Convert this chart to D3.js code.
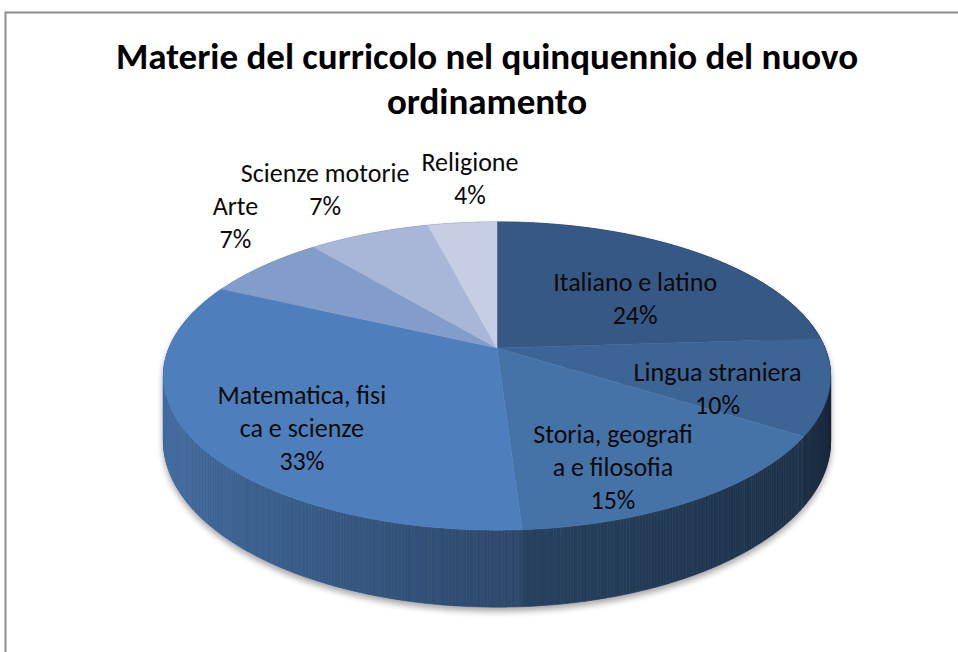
<!DOCTYPE html>
<html>
  <head>
    <title>Materie del curricolo</title>
    <style>
      body { margin: 0; background: #fff; }
      text { font-family: Carlito, Calibri, Lato, sans-serif; }
    </style>
  </head>
  <body>
    <script src="https://cdnjs.cloudflare.com/ajax/libs/d3/7.8.5/d3.min.js"></script>
    <script>
      // data
      let subjects = ['Italiano e latino', 'Lingua straniera', 'Storia, geografia e filosofia',
                      'Matematica, fisica e scienze', 'Arte', 'Scienze motorie', 'Religione'];
      let shares = [24, 10, 15, 33, 7, 7, 4];
      // the way Excel wrapped the labels
      let labelLines = [['Italiano e latino'], ['Lingua straniera'], ['Storia, geografi', 'a e filosofia'],
                        ['Matematica, fisi', 'ca e scienze'], ['Arte'], ['Scienze motorie'], ['Religione']];
      let titleLines = ['Materie del curricolo nel quinquennio del nuovo', 'ordinamento'];
      let colors = ['#365884', '#3C6596', '#4573A8', '#4E7FBC', '#829DCA', '#A8B6D7', '#C5CEE2'];

      let width = 958, height = 652;

      let svg = d3.select('body')
                  .append('svg')
                  .attr('width', width)
                  .attr('height', height);

      // chart area border (only top and left are in the frame)
      svg.append('path')
         .attr('d', 'M5.5,' + height + 'V12.5H' + width)
         .attr('fill', 'none')
         .attr('stroke', '#8c8c8c')
         .attr('stroke-width', 2);

      // title
      let title = svg.append('g');
      titleLines.forEach((t, i) => {
        title.append('text')
             .attr('x', 487)
             .attr('y', 69 + i * 45)
             .attr('text-anchor', 'middle')
             .attr('font-size', 37)
             .attr('font-weight', 'bold')
             .attr('fill', '#000')
             .text(t);
      });

      // perspective pie geometry
      let cx = 497, cy = 348, rx = 328, ry = 149, k = 0.182, depth = 63;

      function project(angle, r, drop) {
        let u = r * Math.sin(angle),
            v = -r * Math.cos(angle),
            d = 1 - k * v;
        return [cx + rx * u / d, cy + (ry * v + drop) / d];
      }

      let pie = d3.pie().sort(null).value((d) => d);
      let arcs = pie(shares);

      // shadow under the pie
      let defs = svg.append('defs');
      let filter = defs.append('filter').attr('id', 'shadow')
                       .attr('x', '-10%').attr('y', '-10%').attr('width', '120%').attr('height', '130%');
      filter.append('feGaussianBlur').attr('in', 'SourceAlpha').attr('stdDeviation', 3).attr('result', 'blur');
      filter.append('feOffset').attr('in', 'blur').attr('dy', 4).attr('result', 'off');
      filter.append('feComponentTransfer').attr('in', 'off').attr('result', 'soft')
            .append('feFuncA').attr('type', 'linear').attr('slope', 0.35);
      let merge = filter.append('feMerge');
      merge.append('feMergeNode').attr('in', 'soft');
      merge.append('feMergeNode').attr('in', 'SourceGraphic');

      // side of the pie, lit from the left
      function shade(angle) {
        let c = Math.cos(angle - 1.5 * Math.PI);
        return c >= 0 ? 0.58 + 0.28 * c : 0.58 + 0.18 * c;
      }

      let walls = svg.append('g').attr('filter', 'url(#shadow)');
      let step = Math.PI / 360;
      arcs.forEach((a, i) => {
        let base = d3.rgb(colors[i]);
        let t0 = a.startAngle;
        while (t0 < a.endAngle - 1e-9) {
          let t1 = Math.min(t0 + step, a.endAngle);
          let f = shade((t0 + t1) / 2);
          let col = d3.rgb(base.r * f, base.g * f, base.b * f).formatHex();
          let pts = [project(t0, 1, 0), project(t1, 1, 0), project(t1, 1, depth), project(t0, 1, depth)];
          walls.append('path')
               .attr('d', d3.line()(pts) + 'Z')
               .attr('fill', col)
               .attr('stroke', col)
               .attr('stroke-width', 0.6);
          t0 = t1;
        }
      });

      // top faces
      let faces = svg.append('g');
      arcs.forEach((a, i) => {
        let n = Math.max(2, Math.ceil((a.endAngle - a.startAngle) / (Math.PI / 180)));
        let pts = [project(0, 0, 0)];
        d3.range(n + 1).forEach((j) => {
          pts.push(project(a.startAngle + (a.endAngle - a.startAngle) * j / n, 1, 0));
        });
        faces.append('path')
             .attr('d', d3.line()(pts) + 'Z')
             .attr('fill', colors[i])
             .attr('stroke', colors[i])
             .attr('stroke-width', 0.5);
      });

      // data labels
      let fontSize = 26, lineH = 33, capH = 17;
      let labels = svg.append('g');

      let labs = arcs.map((a, i) => {
        let lines = labelLines[i].concat([shares[i] + '%']);
        let g = labels.append('g');
        let texts = lines.map((t) => g.append('text')
                                      .attr('text-anchor', 'middle')
                                      .attr('font-size', fontSize)
                                      .attr('fill', '#0a0a0a')
                                      .text(t));
        let widths = texts.map((t) => t.node().getComputedTextLength());
        return { g: g, texts: texts, widths: widths, n: lines.length,
                 angle: (a.startAngle + a.endAngle) / 2, inside: shares[i] >= 10, x: 0, y: 0 };
      });

      function place(l) {
        if (l.inside) {
          let p = project(l.angle, 0.67, depth * 0.3);
          l.x = p[0]; l.y = p[1];
        } else {
          let p = project(l.angle, 1.05, 0);
          l.x = p[0] + Math.sin(l.angle) * d3.max(l.widths) / 2;
          l.y = p[1] - l.n * lineH / 2 - 6;
        }
      }

      function baseline(l, j) {
        return l.y - (l.n - 1) * lineH / 2 + j * lineH + capH / 2;
      }

      function boxes(l) {
        return l.widths.map((w, j) => {
          let b = baseline(l, j);
          return { x0: l.x - w / 2, x1: l.x + w / 2, y0: b - capH - 2, y1: b + 6 };
        });
      }

      function overlapX(p, q, pad) {
        let best = 0;
        boxes(p).forEach((a) => boxes(q).forEach((b) => {
          if (a.y0 < b.y1 && b.y0 < a.y1) best = Math.max(best, a.x1 + pad - b.x0);
        }));
        return best;
      }

      function collide(p, q) {
        return boxes(p).some((a) => boxes(q).some((b) =>
          a.x0 < b.x1 + 6 && b.x0 < a.x1 + 6 && a.y0 < b.y1 + 4 && b.y0 < a.y1 + 4));
      }

      labs.forEach(place);

      // inside labels: spread neighbours apart along the rim
      let inner = labs.filter((l) => l.inside);
      for (let it = 0; it < 100; it++) {
        let moved = false;
        for (let j = 1; j < inner.length; j++) {
          if (collide(inner[j - 1], inner[j])) {
            inner[j - 1].angle -= Math.PI / 360;
            inner[j].angle += Math.PI / 360;
            place(inner[j - 1]); place(inner[j]);
            moved = true;
          }
        }
        if (!moved) break;
      }

      // outside labels: push to the right when lines collide
      let outer = labs.filter((l) => !l.inside).sort((p, q) => p.x - q.x);
      for (let j = 1; j < outer.length; j++) {
        for (let m = 0; m < j; m++) {
          let o = overlapX(outer[m], outer[j], 12);
          if (o > 0) outer[j].x += o;
        }
      }

      labs.forEach((l) => {
        l.texts.forEach((t, j) => t.attr('x', l.x).attr('y', baseline(l, j)));
      });
    </script>
  </body>
</html>
